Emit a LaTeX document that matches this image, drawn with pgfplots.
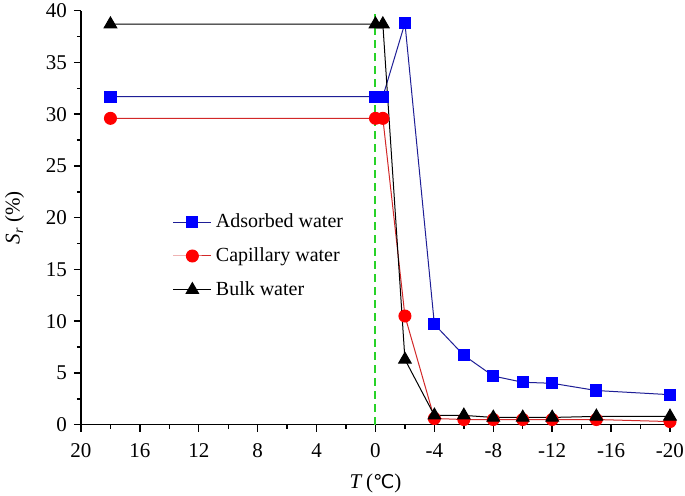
\documentclass[border=0pt]{standalone}
\usepackage{pgfplots}
\pgfplotsset{compat=1.18}
\usepackage{fontspec}
\setmainfont{Liberation Serif}
\newfontfamily\dejavu{DejaVu Sans}
\definecolor{gline}{RGB}{40,210,40}
\definecolor{bline}{RGB}{30,30,150}
\definecolor{rline}{RGB}{210,40,40}
\begin{document}
\begin{tikzpicture}
\begin{axis}[
  name=ax,
  width=294.5pt, height=207pt, scale only axis,
  x dir=reverse,
  xmin=-20, xmax=20, ymin=0, ymax=40,
  xtick={-20,-16,...,20},
  xticklabels={-20,-16,-12,-8,-4,0,4,8,12,16,20},
  ytick={0,5,...,40},
  minor x tick num=1, minor y tick num=1,
  axis x line*=bottom, axis y line*=left,
  axis line style={line width=0.8pt, -},
  tick align=outside,
  major tick length=3.5pt, minor tick length=2pt,
  tick style={line width=0.7pt, black},
  /pgf/number format/assume math mode=true,
  tick label style={font=\fontsize{10.5}{12}\selectfont},
  xticklabel style={yshift=-2.5pt},
  xlabel={\textit{T}\,({\dejavu\fontsize{9.5}{11}\selectfont ℃})},
  ylabel={\textit{S}\raisebox{-0.35ex}{\fontsize{7}{8}\selectfont\textit{r}} (\%)},
  label style={font=\fontsize{10.5}{12}\selectfont},
  xlabel style={yshift=-1pt},
  ylabel style={yshift=4pt},
  legend style={draw=none, fill=none, at={(0.145,0.53)}, anchor=north west,
    font=\fontsize{10}{12}\selectfont, row sep=4.5pt,
    legend cell align=left},
  legend image code/.code={\draw[mark repeat=2,mark phase=2] plot coordinates {(0cm,0cm)(0.335cm,0cm)(0.67cm,0cm)};},
]
\addplot[gline, dashed, line width=1pt, dash pattern=on 4pt off 2.5pt, forget plot] coordinates {(0,0) (0,40)};
\addplot[bline, line width=0.5pt, mark=square*, mark size=2.8pt, mark options={fill=blue, draw=blue, solid}] coordinates {
(18,31.7) (0,31.7) (-0.5,31.7) (-2,38.8) (-4,9.7) (-6,6.7) (-8,4.7) (-10,4.1) (-12,4.0) (-15,3.3) (-20,2.9)};
\addlegendentry{Adsorbed water}
\addplot[rline, line width=0.5pt, mark=*, mark size=3pt, mark options={fill=red, draw=red, solid}] coordinates {
(18,29.6) (0,29.6) (-0.5,29.6) (-2,10.5) (-4,0.6) (-6,0.5) (-8,0.5) (-10,0.5) (-12,0.5) (-15,0.5) (-20,0.3)};
\addlegendentry{Capillary water}
\addplot[black, line width=0.5pt, mark=triangle*, mark size=3.6pt, mark options={fill=black, solid}] coordinates {
(18,38.7) (0,38.7) (-0.5,38.7) (-2,6.3) (-4,0.9) (-6,0.9) (-8,0.7) (-10,0.7) (-12,0.7) (-15,0.8) (-20,0.8)};
\addlegendentry{Bulk water}
\end{axis}
\pgfresetboundingbox
\path ([xshift=-40.5pt,yshift=-35.5pt]ax.south west) rectangle ([xshift=7.5pt,yshift=5.35pt]ax.north east);
\end{tikzpicture}
\end{document}
